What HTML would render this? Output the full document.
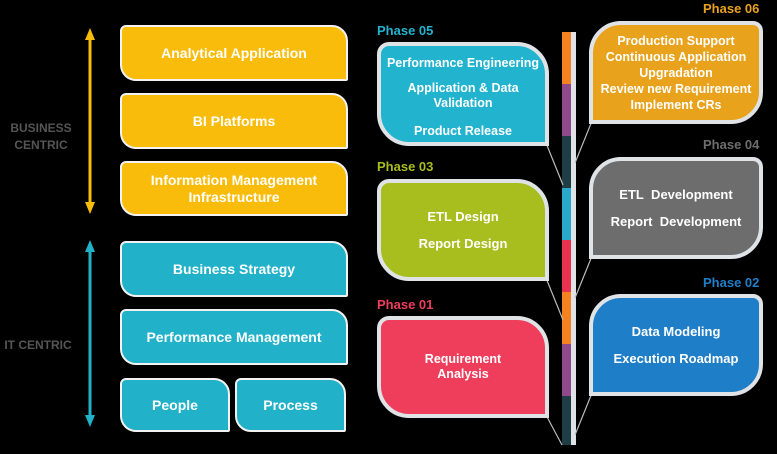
<!DOCTYPE html>
<html><head><meta charset="utf-8"><style>
body{margin:0;width:777px;height:454px;background:#000;position:relative;overflow:hidden;font-family:"Liberation Sans",sans-serif;font-weight:bold;color:#fff}
.b{position:absolute;box-sizing:border-box;border:2px solid #f2f2f2;display:flex;align-items:center;justify-content:center;text-align:center;font-size:14px;line-height:17px;border-radius:6px 16px 2px 16px}
.y{background:#f9bc0b}.t{background:#21b1c9}
.lb{position:absolute;box-sizing:border-box;border:4px solid #dfe3e6;display:flex;flex-direction:column;align-items:center;justify-content:center;text-align:center;font-size:12.5px;line-height:15px}
.L{border-radius:12px 32px 0 32px}
.R{border-radius:32px 10px 32px 0}
.ph{position:absolute;font-size:13px;font-weight:bold}
.lab{position:absolute;color:#555;font-size:12px;text-align:center;line-height:17px}
.lb p{margin:4px 0}
</style></head><body>
<svg width="777" height="454" style="position:absolute;left:0;top:0">
<g stroke-width="3">
<line x1="90" y1="34" x2="90" y2="208" stroke="#f9bc0b"/>
<line x1="90" y1="246" x2="90" y2="421" stroke="#21b1c9"/>
</g>
<polygon points="90,28 85,40 95,40" fill="#f9bc0b"/><polygon points="90,214 85,202 95,202" fill="#f9bc0b"/>
<polygon points="90,240 85,252 95,252" fill="#21b1c9"/><polygon points="90,427 85,415 95,415" fill="#21b1c9"/>
<rect x="571" y="32" width="5" height="413" fill="#dfe3e6"/>
<rect x="562" y="32" width="9" height="52" fill="#f58220"/>
<rect x="562" y="84" width="9" height="52" fill="#8e4a8a"/>
<rect x="562" y="136" width="9" height="52" fill="#1e3d45"/>
<rect x="562" y="188" width="9" height="52" fill="#2aa8cc"/>
<rect x="562" y="240" width="9" height="52" fill="#e8324f"/>
<rect x="562" y="292" width="9" height="52" fill="#f58220"/>
<rect x="562" y="344" width="9" height="52" fill="#8e4a8a"/>
<rect x="562" y="396" width="9" height="49" fill="#1e3d45"/>
<g stroke="#bbb" stroke-width="1.2">
<line x1="546" y1="143" x2="563" y2="185"/>
<line x1="546" y1="278" x2="563" y2="320"/>
<line x1="546" y1="415" x2="562" y2="445"/>
<line x1="592" y1="121" x2="575" y2="163"/>
<line x1="592" y1="256" x2="575" y2="298"/>
<line x1="592" y1="393" x2="575" y2="435"/>
</g>
</svg>
<div class="lab" style="left:4px;top:120px;width:74px">BUSINESS<br>CENTRIC</div>
<div class="lab" style="left:0;top:337px;width:76px">IT CENTRIC</div>
<div class="b y" style="left:120px;top:25px;width:228px;height:56px">Analytical Application</div>
<div class="b y" style="left:120px;top:93px;width:228px;height:56px">BI Platforms</div>
<div class="b y" style="left:120px;top:161px;width:228px;height:55px">Information Management<br>Infrastructure</div>
<div class="b t" style="left:120px;top:241px;width:228px;height:56px">Business Strategy</div>
<div class="b t" style="left:120px;top:309px;width:228px;height:56px">Performance Management</div>
<div class="b t" style="left:120px;top:378px;width:110px;height:54px">People</div>
<div class="b t" style="left:235px;top:378px;width:111px;height:54px">Process</div>

<div class="ph" style="left:377px;top:23px;color:#22b3cf">Phase 05</div>
<div class="lb L" style="left:377px;top:42px;width:172px;height:104px;background:#22b3cf;padding-top:6px"><p>Performance Engineering</p><p style="margin-top:6px">Application &amp; Data<br>Validation</p><p style="margin-top:9px">Product Release</p></div>
<div class="ph" style="left:377px;top:159px;color:#a8be1e">Phase 03</div>
<div class="lb L" style="left:377px;top:179px;width:172px;height:102px;background:#a8be1e;font-size:13px"><p>ETL Design</p><p style="margin-top:8px">Report Design</p></div>
<div class="ph" style="left:377px;top:297px;color:#ef3e5c">Phase 01</div>
<div class="lb L" style="left:377px;top:316px;width:172px;height:102px;background:#ef3e5c">Requirement<br>Analysis</div>

<div class="ph" style="left:703px;top:1px;color:#e9a21c">Phase 06</div>
<div class="lb R" style="left:589px;top:21px;width:174px;height:103px;background:#e9a21c;line-height:16px">Production Support<br>Continuous Application<br>Upgradation<br>Review new Requirement<br>Implement CRs</div>
<div class="ph" style="left:703px;top:137px;color:#6d6d6d">Phase 04</div>
<div class="lb R" style="left:589px;top:157px;width:174px;height:102px;background:#6d6d6d;font-size:13px"><p>ETL&nbsp; Development</p><p style="margin-top:8px">Report&nbsp; Development</p></div>
<div class="ph" style="left:703px;top:275px;color:#1f7ec8">Phase 02</div>
<div class="lb R" style="left:589px;top:294px;width:174px;height:102px;background:#1f7ec8;font-size:13px"><p>Data Modeling</p><p style="margin-top:8px">Execution Roadmap</p></div>
</body></html>
